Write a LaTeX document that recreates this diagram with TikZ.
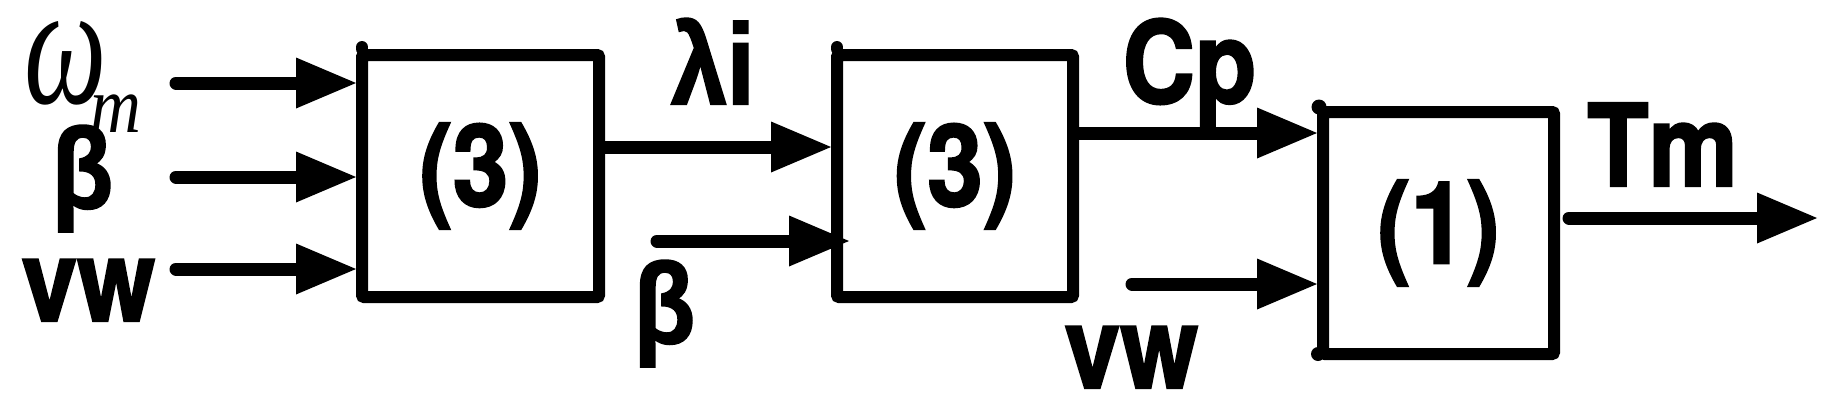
\documentclass[tikz,border=0pt]{standalone}
\usepackage{fontspec}
\setmainfont{TeX Gyre Heros}[BoldFeatures={FakeBold=2}]
\newfontfamily\grk{Liberation Sans}[BoldFeatures={FakeBold=2}]
\newfontfamily\omfont{Liberation Serif}
\newcommand\narrowtext[1]{\scalebox{0.88}[1]{#1}}
\usetikzlibrary{arrows.meta}
\begin{document}
\begin{tikzpicture}[x=1pt,y=-1pt,
  blk/.style={draw, line width=12pt, rounded corners=2pt, inner sep=0pt,
    font=\fontsize{114}{114}\selectfont\bfseries},
  lbl/.style={anchor=base, inner sep=0pt, font=\fontsize{114}{114}\selectfont\bfseries},
  arr/.style={line width=13pt, line cap=round,
    -{Triangle[length=60pt,width=51pt,line width=0pt]}},
  stub/.style={line width=12pt, line cap=round}]
\useasboundingbox (0,0) rectangle (1830,418);
% blocks
\node[blk, minimum width=237pt, minimum height=242pt] (b1) at (480.5,176) {\narrowtext{(3)}};
\node[blk, minimum width=236pt, minimum height=242pt] (b2) at (955,176) {\narrowtext{(3)}};
\node[blk, minimum width=231pt, minimum height=242pt] (b3) at (1438.5,233) {\narrowtext{(1)}};
% corner marks
\draw[stub] ([xshift=6pt]b1.north west) -- ++(0,-2);
\draw[stub] ([xshift=6pt]b2.north west) -- ++(0,-2);
\fill (1319,107) circle (7.5);
\fill (1318,354) circle (7);
% labels
\node[anchor=base west, inner sep=0pt, font=\omfont\itshape] (om) at (24,103)
  {\scalebox{0.667}[1]{\fontsize{175}{175}\selectfont ω}\kern-16pt\raisebox{-29pt}{\scalebox{0.88}[1]{\fontsize{80}{80}\selectfont m}}};
\node[lbl] (lb1) at (82.5,208) {\narrowtext{\grk β}};
\node[lbl] (lvw1) at (88.5,321) {\narrowtext{vw}};
\node[lbl] (llam) at (713,104) {\narrowtext{\grk λi}};
\node[lbl] (lb2) at (664.5,343) {\narrowtext{\grk β}};
\node[lbl] (lcp) at (1189.5,103) {\narrowtext{Cp}};
\node[lbl] (lvw2) at (1131.5,388) {\narrowtext{vw}};
\node[lbl] (ltm) at (1662.5,186) {\narrowtext{Tm}};
% inputs to block 1
\coordinate (s1) at (176,83);
\coordinate (s2) at (176,177);
\coordinate (s3) at (176,269);
\draw[arr] (s1) -- (s1 -| b1.west);
\draw[arr] (s2) -- (s2 -| b1.west);
\draw[arr] (s3) -- (s3 -| b1.west);
% lambda_i
\coordinate (l1) at (0,147);
\draw[arr] (l1 -| b1.east) -- (l1 -| b2.west);
% beta into block 2
\coordinate (bm) at (657,241);
\coordinate (bmend) at (849,241);
\draw[arr] (bm) -- (bmend);
% Cp
\coordinate (c1) at (0,133);
\draw[arr] (c1 -| b2.east) -- (c1 -| b3.west);
% vw into block 3
\coordinate (vm) at (1132,284);
\draw[arr] (vm) -- (vm -| b3.west);
% Tm
\coordinate (ts) at (1569,218);
\coordinate (te) at (1817,218);
\draw[arr] (ts) -- (te);
\end{tikzpicture}
\end{document}
